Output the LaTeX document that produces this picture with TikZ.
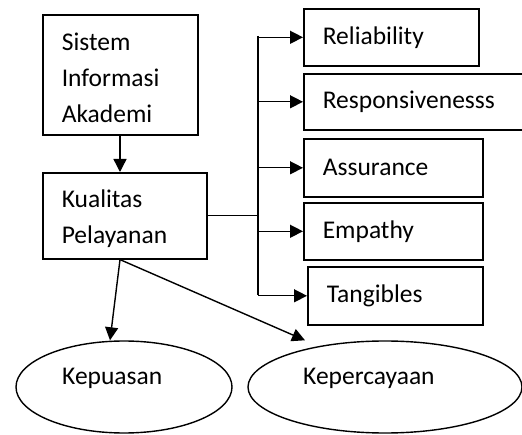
\documentclass[tikz,border=0pt]{standalone}
\usepackage{fontspec}
\setmainfont{Carlito}
\usetikzlibrary{arrows.meta,shapes.geometric}
\begin{document}
\begin{tikzpicture}[x=1pt,y=-1pt,
  box/.style={draw, line width=1.6pt, rectangle, anchor=north west, align=left,
    inner xsep=19pt, inner ysep=0pt, font=\fontsize{25.5}{36}\selectfont},
  ell/.style={draw, line width=1.4pt, ellipse, inner sep=0pt},
  txt/.style={font=\fontsize{25.5}{36}\selectfont, inner sep=0pt, anchor=west},
  arr/.style={line width=1.4pt, -{Triangle[length=13pt,width=13pt]}},
  ln/.style={line width=1.4pt}]
\useasboundingbox (0,0) rectangle (522,435);
% left boxes
\node[box, text width=117pt, text height=24pt, minimum height=120pt] (sia) at (42,14) {Sistem\\Informasi\\Akademi};
\node[box, text width=126pt, text height=24pt, minimum height=86pt] (kp) at (42,172) {Kualitas\\Pelayanan};
% right boxes
\node[box, text width=137pt, minimum height=57pt] (rel) at (303,8) {Reliability};
\node[box, text width=185pt, minimum height=56pt] (res) at (303,73) {Responsivenesss};
\node[box, text width=141pt, minimum height=58pt] (ass) at (303,138) {Assurance};
\node[box, text width=141pt, minimum height=57pt] (emp) at (303,202) {Empathy};
\node[box, text width=137pt, minimum height=58pt] (tan) at (307,266) {Tangibles};
% ellipses
\node[ell, minimum width=216pt, minimum height=92pt] (kep) at (124,387) {};
\node[txt] (kept) at (62,378) {Kepuasan};
\node[ell, minimum width=274pt, minimum height=92pt] (kpc) at (385,387) {};
\node[txt] (kpct) at (303,378) {Kepercayaan};
% connectors
\coordinate (jt) at (258,36);
\coordinate (jb) at (258,295);
\draw[arr] (sia.south -| 120,0) -- (kp.north -| 120,0);
\draw[ln] (kp.east) -- (kp.east -| jt);
\draw[ln] (jt) -- (jb);
\draw[arr] (rel.west -| jt) -- (rel.west);
\draw[arr] (res.west -| jt) -- (res.west);
\draw[arr] (ass.west -| jt) -- (ass.west);
\draw[arr] (emp.west -| jt) -- (emp.west);
\draw[arr] (tan.west -| jt) -- (tan.west);
\draw[arr] (kp.south -| 120,0) -- ([xshift=-14pt]kep.north);
\draw[arr] (kp.south -| 120,0) -- ([xshift=-80pt]kpc.north);
\end{tikzpicture}
\end{document}
